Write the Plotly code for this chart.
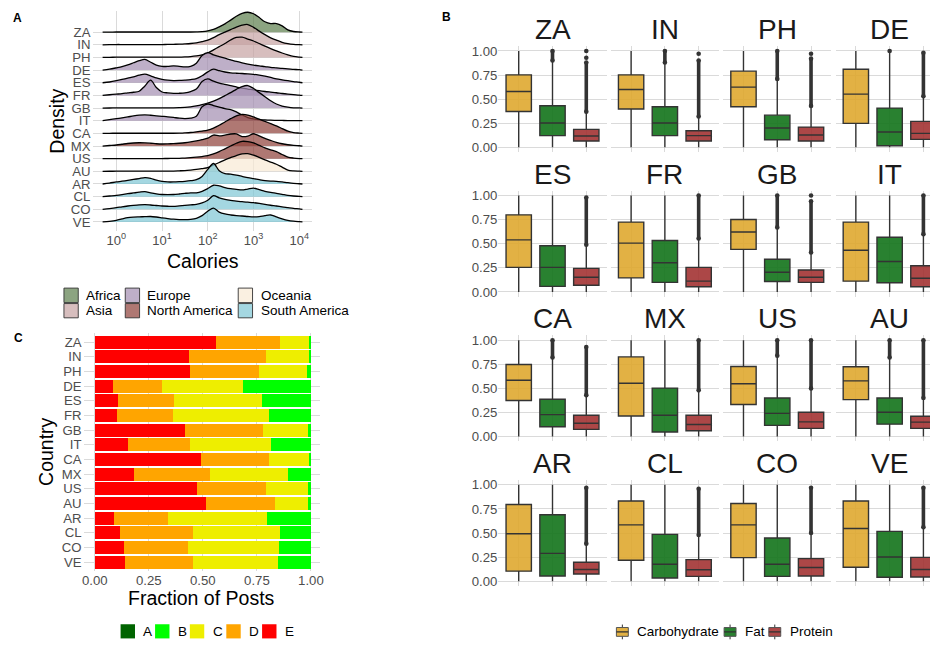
import plotly.graph_objects as go

# ---------------------------------------------------------------- data
COUNTRIES = ["ZA", "IN", "PH", "DE", "ES", "FR", "GB", "IT",
             "CA", "MX", "US", "AU", "AR", "CL", "CO", "VE"]
COUNTRY_CONTINENT = ["Africa", "Asia", "Asia", "Europe", "Europe", "Europe", "Europe", "Europe",
                     "North America", "North America", "North America", "Oceania",
                     "South America", "South America", "South America", "South America"]
CONTINENTS = ["Africa", "Asia", "Europe", "North America", "Oceania", "South America"]

# Panel A: ridge density heights (in ridge-row units) read at these log10(calories) positions
LOG_CALORIES = [-0.3, -0.15, 0.0, 0.125, 0.25, 0.375, 0.5, 0.625, 0.75, 0.875,
                1.0, 1.125, 1.25, 1.375, 1.5, 1.625, 1.75, 1.875, 2.0, 2.125,
                2.25, 2.375, 2.5, 2.625, 2.75, 2.875, 3.0, 3.125, 3.25, 3.375,
                3.5, 3.625, 3.75, 3.875, 4.0, 4.07]
DENS_ZA = [0, .005, .01, .01, .01, .01, .01, .01, .01, .01, .01, .01, .01, .01, .01, .01,
           .02, .04, .10, .22, .42, .65, .95, 1.25, 1.48, 1.57, 1.45, 1.15, .82, .68,
           .68, .50, .18, .05, .01, 0]
DENS_IN = [0, .01, .02, .02, .02, .02, .02, .02, .02, .02, .02, .03, .04, .05, .07, .10,
           .15, .25, .37, .57, .80, 1.0, 1.2, 1.4, 1.55, 1.6, 1.38, 1.08, .8, .55,
           .37, .2, .1, .04, .01, 0]
DENS_PH = [0, .01, .02, .02, .02, .02, .02, .02, .02, .02, .02, .02, .02, .02, .04, .07,
           .12, .2, .35, .6, .85, 1.1, 1.38, 1.58, 1.6, 1.45, 1.3, 1.1, .9, .7,
           .52, .35, .2, .08, .02, 0]
DENS_DE = [0, .07, .18, .28, .42, .58, .74, .84, .62, .4, .3, .29, .34, .3, .25, .3,
           .55, 1.15, 1.38, 1.2, 1.07, .94, .81, .68, .57, .47, .39, .33, .28, .22,
           .18, .13, .1, .06, .03, 0]
DENS_ES = [0, .06, .16, .26, .37, .47, .6, .68, .55, .38, .27, .2, .17, .18, .21, .25,
           .32, .55, .86, 1.08, .95, .85, .78, .75, .73, .7, .66, .6, .52, .42,
           .31, .23, .16, .09, .04, 0]
DENS_FR = [0, .05, .1, .14, .2, .25, .33, .75, 1.2, .62, .27, .2, .16, .17, .2, .3,
           .5, 1.1, 1.3, 1.12, .97, .87, .78, .67, .57, .5, .44, .37, .31, .26,
           .21, .15, .1, .06, .03, 0]
DENS_GB = [0, .005, .01, .01, .01, .01, .01, .01, .01, .01, .01, .015, .02, .03, .05, .1,
           .18, .28, .4, .55, .74, .98, 1.22, 1.48, 1.7, 1.78, 1.55, 1.22, .9, .58,
           .32, .16, .07, .02, .01, 0]
DENS_IT = [0, .08, .16, .23, .3, .38, .44, .46, .43, .39, .35, .31, .26, .2, .17, .2,
           .35, 1.1, 1.32, 1.2, 1.08, .95, .87, .7, .45, .25, .14, .09, .06, .04,
           .03, .02, .01, .01, 0, 0]
DENS_CA = [0, .005, .01, .01, .01, .01, .01, .01, .01, .01, .01, .01, .01, .02, .04, .07,
           .12, .18, .26, .42, .64, .9, 1.16, 1.38, 1.5, 1.45, 1.3, 1.12, .95, .77,
           .59, .38, .17, .06, .02, 0]
DENS_MX = [0, .04, .08, .14, .2, .24, .26, .25, .22, .18, .16, .17, .19, .22, .26, .32,
           .4, .5, .62, .87, .8, .86, .95, .96, .75, .78, .97, .8, .6, .44,
           .29, .18, .1, .05, .02, 0]
DENS_US = [0, .005, .01, .01, .01, .01, .01, .01, .01, .01, .01, .015, .02, .03, .05, .08,
           .12, .17, .24, .38, .56, .78, 1.0, 1.22, 1.37, 1.35, 1.24, 1.05, .86, .7,
           .55, .33, .13, .05, .01, 0]
DENS_AU = [0, .005, .01, .01, .01, .01, .01, .01, .01, .01, .01, .015, .02, .04, .06, .1,
           .15, .22, .3, .5, .7, .9, 1.08, 1.25, 1.38, 1.4, 1.28, 1.1, .9, .73,
           .56, .33, .1, .03, .01, 0]
DENS_AR = [0, .07, .16, .22, .29, .36, .43, .5, .45, .3, .2, .16, .16, .18, .21, .26,
           .34, .6, 1.15, 1.62, 1.05, .82, .78, .7, .6, .5, .42, .34, .27, .23,
           .21, .16, .1, .05, .02, 0]
DENS_CL = [0, .05, .1, .16, .23, .29, .35, .4, .3, .22, .17, .16, .17, .21, .26, .3,
           .3, .42, .64, .9, .85, .72, .63, .58, .53, .6, .67, .55, .42, .33,
           .26, .18, .1, .05, .02, 0]
DENS_CO = [0, .06, .13, .2, .26, .31, .35, .37, .34, .3, .26, .24, .23, .27, .31, .35,
           .39, .5, .72, 1.08, .9, .78, .7, .65, .6, .56, .52, .46, .39, .32,
           .26, .19, .13, .07, .03, 0]
DENS_VE = [0, .05, .13, .24, .34, .38, .4, .42, .43, .39, .33, .27, .22, .19, .18, .21,
           .29, .5, .85, 1.1, .78, .63, .55, .5, .47, .43, .4, .42, .5, .55,
           .4, .25, .13, .06, .02, 0]
DENSITY = {"ZA": DENS_ZA, "IN": DENS_IN, "PH": DENS_PH, "DE": DENS_DE, "ES": DENS_ES,
           "FR": DENS_FR, "GB": DENS_GB, "IT": DENS_IT, "CA": DENS_CA, "MX": DENS_MX,
           "US": DENS_US, "AU": DENS_AU, "AR": DENS_AR, "CL": DENS_CL, "CO": DENS_CO,
           "VE": DENS_VE}
for _k, _v in DENSITY.items():
    assert len(_v) == len(LOG_CALORIES), _k

CAL_TICKS = [1, 10, 100, 1000, 10000]
CAL_TICK_TEXT = ["10<sup>0</sup>", "10<sup>1</sup>", "10<sup>2</sup>", "10<sup>3</sup>", "10<sup>4</sup>"]

# Panel B: box statistics per country (order of COUNTRIES)
NUTRIENTS = ["Carbohydrate", "Fat", "Protein"]
CARB_LO = [0.0] * 16
CARB_Q1 = [.372, .397, .421, .248, .255, .146, .442, .112, .374, .214, .333, .384, .105, .218, .245, .146]
CARB_MED = [.579, .600, .624, .552, .540, .507, .622, .432, .585, .554, .548, .578, .493, .585, .585, .548]
CARB_Q3 = [.752, .752, .790, .810, .800, .725, .752, .725, .748, .827, .728, .725, .796, .833, .806, .833]
CARB_HI = [1.0] * 16
FAT_LO = [0.0] * 16
FAT_Q1 = [.121, .121, .079, .017, .058, .099, .109, .095, .102, .048, .116, .129, .054, .034, .051, .041]
FAT_MED = [.252, .252, .200, .159, .255, .303, .204, .316, .228, .221, .241, .252, .289, .177, .177, .252]
FAT_Q3 = [.431, .421, .334, .407, .480, .534, .340, .568, .388, .503, .401, .401, .690, .486, .449, .517]
FAT_HI = [.90, .88, .71, .99, 1.0, 1.0, .67, 1.0, .82, 1.0, .84, .82, 1.0, 1.0, 1.0, 1.0]
PROT_LO = [0.0] * 16
PROT_Q1 = [.066, .066, .066, .083, .070, .054, .099, .054, .075, .061, .085, .085, .075, .051, .054, .044]
PROT_MED = [.117, .121, .128, .145, .153, .112, .153, .143, .139, .126, .153, .150, .122, .119, .143, .122]
PROT_Q3 = [.186, .172, .210, .269, .245, .255, .228, .272, .221, .221, .252, .211, .197, .224, .235, .248]
PROT_HI = [.37, .32, .43, .53, .49, .555, .41, .60, .43, .48, .50, .40, .39, .48, .50, .56]
# outliers: dense runs (from, to) and isolated points
FAT_OUT_RUN = [(.90, 1.0), (.88, 1.0), (.71, 1.0), None, None, None, (.67, 1.0), None,
               (.82, 1.0), None, (.84, 1.0), (.82, 1.0), None, None, None, None]
FAT_OUT_PTS = [[], [], [], [1.0], [], [], [], [], [], [], [], [], [], [], [], []]
PROT_OUT_RUN = [(.37, .88), (.32, .90), (.43, .92), (.53, .98), (.49, .98), (.555, 1.0),
                (.41, .94), (.60, 1.0), (.43, .93), (.48, 1.0), (.50, 1.0), (.40, 1.0),
                (.39, .97), (.48, .96), (.50, .97), (.56, .97)]
PROT_OUT_PTS = [[.93, 1.0], [.97], [.97], [], [], [], [1.0], [], [], [], [], [], [], [], [], []]
FRACTION_TICKS = [0, 0.25, 0.5, 0.75, 1.0]
FRACTION_TICK_TEXT = ["0.00", "0.25", "0.50", "0.75", "1.00"]

# Panel C: share of posts per grade
GRADES = ["A", "B", "C", "D", "E"]
SHARE_E = [.559, .435, .440, .086, .109, .104, .417, .155, .490, .182, .472, .513, .090, .118, .136, .138]
SHARE_D = [.299, .358, .321, .225, .257, .257, .362, .285, .317, .349, .321, .322, .248, .335, .294, .315]
SHARE_C = [.133, .198, .221, .377, .409, .446, .207, .376, .184, .363, .193, .151, .460, .404, .423, .395]
SHARE_B = [.009, .009, .018, .312, .225, .193, .014, .184, .009, .106, .014, .014, .202, .143, .147, .152]
SHARE_A = [0.0] * 16
SHARES = {"A": SHARE_A, "B": SHARE_B, "C": SHARE_C, "D": SHARE_D, "E": SHARE_E}

# ---------------------------------------------------------------- style
W, H = 938, 646
OFFSET = 8  # the page body margin shifts the figure by 8px; layout is in screen px
FONT = "Liberation Sans, Arial, Helvetica, sans-serif"
TICK_COLOR = "#4D4D4D"
GRID = "#DADADA"
CONTINENT_RGB = {"Africa": (91, 126, 76), "Asia": (198, 162, 162), "Europe": (162, 141, 176),
                 "North America": (141, 62, 55), "Oceania": (248, 234, 212),
                 "South America": (126, 198, 212)}
RIDGE_ALPHA = 0.7
GRADE_COLORS = {"A": "#006400", "B": "#00FF00", "C": "#EEEE00", "D": "#FFA500", "E": "#FF0000"}
NUTRIENT_FILL = {"Carbohydrate": "rgba(222,166,42,0.88)", "Fat": "rgba(18,115,25,0.9)",
                 "Protein": "rgba(160,45,45,0.88)"}
OUTLIER = "#333333"
TICK_SIZE = 13.2


def rgba(rgb, a):
    return "rgba(%d,%d,%d,%.2f)" % (rgb[0], rgb[1], rgb[2], a)


def px(x):
    return (x - OFFSET) / W


def py(y):
    return 1 - (y - OFFSET) / H


def tickfont(size=TICK_SIZE):
    return dict(family=FONT, size=size, color=TICK_COLOR)


fig = go.Figure()
annotations = []
shapes = []

# ---------------------------------------------------------------- panel A
n_c = len(COUNTRIES)
cal = [10 ** v for v in LOG_CALORIES]
for i, code in enumerate(COUNTRIES):
    base = n_c - 1 - i
    cont = COUNTRY_CONTINENT[i]
    fig.add_trace(go.Scatter(
        x=cal, y=[base + d for d in DENSITY[code]], mode="lines", fill="toself",
        fillcolor=rgba(CONTINENT_RGB[cont], RIDGE_ALPHA),
        line=dict(color="black", width=1.3, shape="spline", smoothing=0.9),
        xaxis="x", yaxis="y", name=code, showlegend=False, hoverinfo="skip"))

layout_axes = {}
layout_axes["xaxis"] = dict(domain=[px(92), px(312)], type="log", range=[-0.5, 4.28], anchor="y",
                            tickvals=CAL_TICKS, ticktext=CAL_TICK_TEXT, showgrid=True,
                            gridcolor=GRID, zeroline=False, ticks="", tickfont=tickfont(13))
layout_axes["yaxis"] = dict(domain=[py(230), py(8)], range=[-0.71, 16.67], anchor="x",
                            tickmode="array", tickvals=list(range(n_c)), ticktext=COUNTRIES[::-1],
                            showgrid=True, gridcolor=GRID, zeroline=False, ticks="",
                            tickfont=tickfont(), ticklabelstandoff=2)

# ---------------------------------------------------------------- panel C
for g in ["E", "D", "C", "B", "A"]:
    fig.add_trace(go.Bar(x=SHARES[g], y=COUNTRIES, orientation="h", width=0.9,
                         marker=dict(color=GRADE_COLORS[g], line=dict(width=0)),
                         xaxis="x2", yaxis="y2", name=g, showlegend=False, hoverinfo="skip"))
layout_axes["xaxis2"] = dict(domain=[px(82), px(320)], range=[-0.052, 1.042], anchor="y2",
                             tickvals=FRACTION_TICKS, ticktext=FRACTION_TICK_TEXT, showgrid=True,
                             gridcolor=GRID, zeroline=False, ticks="", tickfont=tickfont())
layout_axes["yaxis2"] = dict(domain=[py(573.2), py(333.4)], type="category",
                             categoryorder="array", categoryarray=COUNTRIES,
                             tickmode="array", tickvals=COUNTRIES, ticktext=COUNTRIES,
                             range=[15.6, -0.6], anchor="x2", showgrid=True, gridcolor=GRID,
                             zeroline=False, ticks="", tickfont=tickfont(), ticklabelstandoff=1)

# ---------------------------------------------------------------- panel B
STATS = {
    "Carbohydrate": (CARB_LO, CARB_Q1, CARB_MED, CARB_Q3, CARB_HI),
    "Fat": (FAT_LO, FAT_Q1, FAT_MED, FAT_Q3, FAT_HI),
    "Protein": (PROT_LO, PROT_Q1, PROT_MED, PROT_Q3, PROT_HI),
}
OUT_RUN = {"Fat": FAT_OUT_RUN, "Protein": PROT_OUT_RUN}
OUT_PTS = {"Fat": FAT_OUT_PTS, "Protein": PROT_OUT_PTS}
PX_PER_CAT = 34.0
PX_PER_UNIT = 97.3
for k, code in enumerate(COUNTRIES):
    r, c = divmod(k, 4)
    n = k + 3
    left = 499.6 + 113.1 * c
    full_right = left + 108.8
    right = min(full_right, W + OFFSET)
    y1 = 48.3 + 146.0 * r
    top = y1 - 0.05 * PX_PER_UNIT
    bottom = y1 + 1.05 * PX_PER_UNIT
    xa, ya = "x%d" % n, "y%d" % n
    for j, nut in enumerate(NUTRIENTS):
        lo, q1, med, q3, hi = (s[k] for s in STATS[nut])
        fig.add_trace(go.Box(x=[j], lowerfence=[lo], q1=[q1], median=[med], q3=[q3],
                             upperfence=[hi], width=0.75, whiskerwidth=0, boxpoints=False,
                             fillcolor=NUTRIENT_FILL[nut], line=dict(color="#333333", width=1.4),
                             xaxis=xa, yaxis=ya, name=nut, showlegend=False, hoverinfo="skip"))
        if nut in OUT_RUN:
            run = OUT_RUN[nut][k]
            if run is not None:
                fig.add_trace(go.Scatter(x=[j, j], y=list(run), mode="lines+markers",
                                         line=dict(color=OUTLIER, width=3.6),
                                         marker=dict(color=OUTLIER, size=4.6),
                                         xaxis=xa, yaxis=ya, showlegend=False, hoverinfo="skip"))
            pts = OUT_PTS[nut][k]
            if pts:
                fig.add_trace(go.Scatter(x=[j] * len(pts), y=pts, mode="markers",
                                         marker=dict(color=OUTLIER, size=4.6),
                                         xaxis=xa, yaxis=ya, showlegend=False, hoverinfo="skip"))
    layout_axes["xaxis%d" % n] = dict(domain=[px(left), min(px(right), 1.0)],
                                      range=[-0.6, -0.6 + (right - left) / PX_PER_CAT],
                                      anchor=ya, tickvals=[0, 1, 2], showticklabels=False,
                                      showgrid=True, gridcolor=GRID, zeroline=False, ticks="")
    layout_axes["yaxis%d" % n] = dict(domain=[py(bottom), py(top)], range=[-0.05, 1.05], anchor=xa,
                                      tickvals=FRACTION_TICKS, ticktext=FRACTION_TICK_TEXT,
                                      showticklabels=(c == 0), showgrid=True, gridcolor=GRID,
                                      zeroline=False, ticks="", tickfont=tickfont())
    annotations.append(dict(text=code, x=px((left + full_right) / 2), y=py(y1 - 21.5),
                            xref="paper", yref="paper", showarrow=False, xanchor="center",
                            yanchor="middle", font=dict(family=FONT, size=28, color="#1A1A1A")))


# ---------------------------------------------------------------- text
def note(text, x, y, size, angle=0, anchor="center", color="black", bold=False):
    if bold:
        text = "<b>%s</b>" % text
    annotations.append(dict(text=text, x=px(x), y=py(y), xref="paper", yref="paper",
                            showarrow=False, xanchor=anchor, yanchor="middle", textangle=angle,
                            font=dict(family=FONT, size=size, color=color)))


note("A", 16, 15, 12, bold=True)
note("B", 447, 14, 12, bold=True)
note("C", 17, 338, 12, bold=True)
note("Density", 55, 119, 19.5, angle=-90)
note("Calories", 202, 260.7, 19.5)
note("Country", 44.3, 453, 19.5, angle=-90)
note("Fraction of Posts", 201, 600.7, 19.5)


def rect(x0, y0, x1, y1, fill, line=None, lw=0.8):
    shapes.append(dict(type="rect", xref="paper", yref="paper", x0=px(x0), x1=px(x1),
                       y0=py(y1), y1=py(y0), fillcolor=fill,
                       line=dict(color=line or "rgba(0,0,0,0)", width=lw if line else 0),
                       layer="above"))


def seg(x0, y0, x1, y1, color, lw):
    shapes.append(dict(type="line", xref="paper", yref="paper", x0=px(x0), x1=px(x1),
                       y0=py(y0), y1=py(y1), line=dict(color=color, width=lw), layer="above"))


# legend A (continents, 3 columns x 2 rows)
LEG_A_COLS = [(62.3, 82.7), (124.0, 144.0), (237.7, 258.3)]
LEG_A_ROWS = [(287.7, 302.3), (303.3, 317.7)]
for idx, cont in enumerate(CONTINENTS):
    col, row = divmod(idx, 2)
    kx, tx = LEG_A_COLS[col]
    ry0, ry1 = LEG_A_ROWS[row]
    rect(kx, ry0, kx + 14.4, ry1, rgba(CONTINENT_RGB[cont], RIDGE_ALPHA), "#333333", 0.9)
    note(cont, tx, (ry0 + ry1) / 2, 13.5, anchor="left", color="black")

# legend C (grades)
LEG_C_KEYS = [119.3, 154.0, 189.0, 225.7, 261.7]
for g, kx in zip(GRADES, LEG_C_KEYS):
    rect(kx, 627.0, kx + 14.5, 641.3, GRADE_COLORS[g])
    note(g, kx + 20.8, 634.2, 13.5, anchor="left", color="black")

# legend B (nutrients)
LEG_B_KEYS = [618.3, 726.7, 771.7]
for nut, kx in zip(NUTRIENTS, LEG_B_KEYS):
    cx = kx + 6
    seg(cx, 627.3, cx, 630.3, "#333333", 1)
    seg(cx, 639.2, cx, 642.2, "#333333", 1)
    rect(kx, 630.3, kx + 12, 639.2, NUTRIENT_FILL[nut], "#555555", 1)
    seg(kx, 634.7, kx + 12, 634.7, "#333333", 1.3)
    note(nut, kx + 19, 634.7, 13.5, anchor="left", color="black")

fig.update_layout(
    width=W, height=H, autosize=False, margin=dict(l=0, r=0, t=0, b=0),
    paper_bgcolor="white", plot_bgcolor="white", showlegend=False,
    barmode="stack", bargap=0.1, boxmode="overlay",
    font=dict(family=FONT, size=13.5, color="black"),
    annotations=annotations, shapes=shapes, **layout_axes)

fig.write_html("out.html")
